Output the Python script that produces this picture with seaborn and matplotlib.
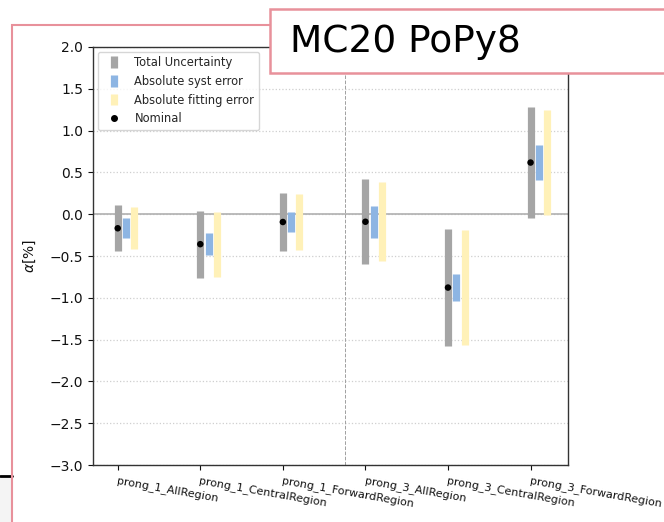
import matplotlib.pyplot as plt
import matplotlib.patches as mpatches
from matplotlib.lines import Line2D
import numpy as np
import pandas as pd
import seaborn as sns

# valores
regioes = [
    "prong_1_AllRegion",
    "prong_1_CentralRegion",
    "prong_1_ForwardRegion",
    "prong_3_AllRegion",
    "prong_3_CentralRegion",
    "prong_3_ForwardRegion",
]
nominal = [-0.168, -0.358, -0.093, -0.090, -0.877, 0.618]
erro_total = [0.274, 0.402, 0.348, 0.508, 0.702, 0.663]
erro_syst = [0.120, 0.130, 0.123, 0.190, 0.165, 0.208]
erro_fit = [0.250, 0.390, 0.330, 0.470, 0.685, 0.633]

sns.set_style("ticks")
plt.rcParams["font.family"] = ["DejaVu Sans"]

df = pd.DataFrame({
    "pos": np.arange(len(regioes)),
    "nominal": nominal,
    "total": erro_total,
    "syst": erro_syst,
    "fit": erro_fit,
})

fig = plt.figure(figsize=(6.64, 5.22), dpi=100)
ax = fig.add_axes([0.140, 0.109, 0.715, 0.801])

h_total = ax.errorbar(df["pos"], df["nominal"], yerr=df["total"], fmt="none",
                      ecolor="#a5a5a5", elinewidth=5.2, label="Total Uncertainty", zorder=3)
h_syst = ax.errorbar(df["pos"] + 0.1, df["nominal"], yerr=df["syst"], fmt="none",
                     ecolor="#8db5e3", elinewidth=5.2, label="Absolute syst error", zorder=3)
h_fit = ax.errorbar(df["pos"] + 0.2, df["nominal"], yerr=df["fit"], fmt="none",
                    ecolor="#fff1b8", elinewidth=5.2, label="Absolute fitting error", zorder=3)
sns.scatterplot(data=df, x="pos", y="nominal", color="black", s=22,
                edgecolor="none", ax=ax, zorder=4, legend=False)
h_nom = Line2D([], [], marker="o", color="black", ls="none", markersize=4)

ax.axhline(0, color="#b0b0b0", lw=1.2, zorder=1)
ax.axvline(2.75, color="#a0a0a0", ls="--", lw=0.7, zorder=1)
ax.grid(axis="y", color="#cfcfcf", ls=":", lw=0.9)

ax.set_ylim(-3, 2)
ax.set_xlim(-0.3, 5.45)
ax.set_yticks(np.arange(-3, 2.01, 0.5))
ax.set_xticks(df["pos"])
ax.set_xticklabels(regioes, rotation=-10, ha="left", rotation_mode="anchor", fontsize=8)
ax.tick_params(axis="y", labelsize=10, length=3.5, colors="#111111")
ax.tick_params(axis="x", length=3.5, colors="#111111")
ax.set_xlabel("")
ax.set_ylabel(r"$\alpha$[%]", fontsize=10, color="#111111")
ax.yaxis.set_label_coords(-0.115, 0.5)
for s in ax.spines.values():
    s.set_visible(True)
    s.set_color("#333333")
    s.set_linewidth(1.0)

ax.legend([h_total, h_syst, h_fit, h_nom],
          ["Total Uncertainty", "Absolute syst error", "Absolute fitting error", "Nominal"],
          loc="upper left", fontsize=8.3, frameon=True, borderaxespad=0.4,
          handlelength=2.0, labelspacing=0.5, edgecolor="#cccccc")

# moldura do slide
rosa = "#e8919b"
fig.add_artist(mpatches.Rectangle((0.0, 0.0), 0.0185, 0.0835, transform=fig.transFigure,
                                  facecolor="#f4f4f4", edgecolor="none", zorder=0))
fig.add_artist(Line2D([0, 0.0185], [0.089, 0.089], transform=fig.transFigure,
                      color="black", lw=2))
fig.add_artist(mpatches.Rectangle((0.0188, -0.1), 1.2, 1.052, transform=fig.transFigure,
                                  facecolor="none", edgecolor=rosa, lw=1.5, zorder=5))
fig.add_artist(mpatches.Rectangle((0.4066, 0.860), 0.7, 0.123, transform=fig.transFigure,
                                  facecolor="white", edgecolor=rosa, lw=1.8, zorder=6))
fig.text(0.437, 0.919, "MC20 PoPy8", fontsize=27, va="center", ha="left",
         color="black", zorder=7)

fig.savefig("out.png", dpi=100)
